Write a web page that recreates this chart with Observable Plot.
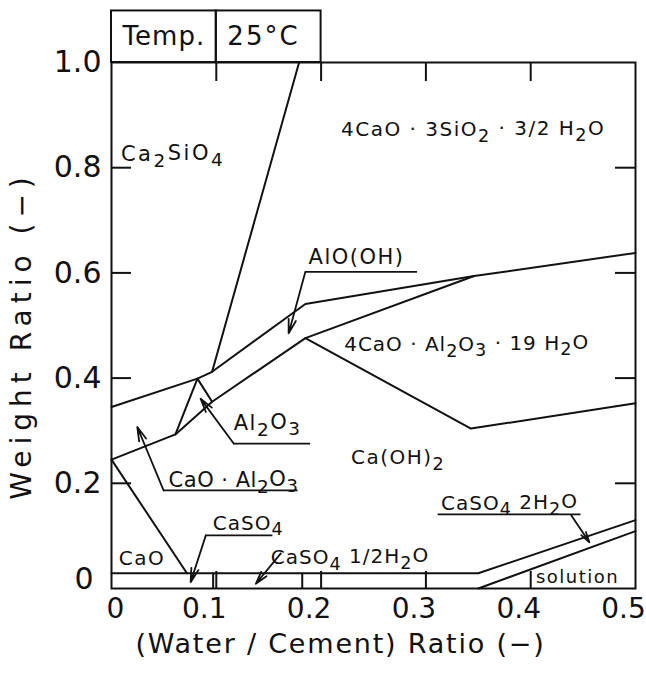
<!DOCTYPE html>
<html><head><meta charset="utf-8">
<script src="https://cdn.jsdelivr.net/npm/d3@7"></script>
<script src="https://cdn.jsdelivr.net/npm/@observablehq/plot@0.6"></script>
<style>
body{margin:0;background:#fff;}
#chart svg{display:block;}
</style></head><body><div id="chart"></div>
<script>
// ---- axes ----
const xDomain = [0, 0.5];
const yDomain = [0, 1.0];
const xLabelTicks = [0.1, 0.2, 0.3, 0.4, 0.5];
const yLabelTicks = [0.2, 0.4, 0.6, 0.8, 1.0];
const xInnerTicks = [0.1, 0.2, 0.3, 0.4];
const yInnerTicks = [0.2, 0.4, 0.6, 0.8];
const xTitle = "(Water / Cement) Ratio (−)";
const yTitle = "Weight Ratio (−)";

// ---- phase boundaries (weight ratio vs water/cement ratio) ----
const upperX = [0, 0.082, 0.096, 0.185, 0.346, 0.5];
const upperY = [0.345, 0.399, 0.412, 0.541, 0.594, 0.638];
const ca2sio4X = [0.096, 0.179];
const ca2sio4Y = [0.412, 1.0];
const lowerX = [0, 0.061, 0.096, 0.185, 0.346];
const lowerY = [0.245, 0.293, 0.355, 0.476, 0.594];
const al2o3PeakX = [0.061, 0.082, 0.096];
const al2o3PeakY = [0.293, 0.399, 0.355];
const caohX = [0.185, 0.343, 0.5];
const caohY = [0.476, 0.304, 0.352];
const caoX = [0, 0.072];
const caoY = [0.245, 0.029];
const bandTopX = [0, 0.35, 0.5];
const bandTopY = [0.029, 0.029, 0.13];
const solutionX = [0.35, 0.5];
const solutionY = [0, 0.109];
const bandDividers = [0.097, 0.182];
const bandHeight = 0.029;

// ---- temperature box ----
const tempCellX1 = [0, 0.1];
const tempCellX2 = [0.1, 0.2];
const tempText = ["Temp.", "25°C"];
const tempTextX = [0.05, 0.145];
const tempBoxY = [1.0, 1.098];

// ---- region labels ----
const regionText = ["Ca₂SiO₄", "4CaO · 3SiO₂ · 3/2 H₂O", "4CaO · Al₂O₃ · 19 H₂O", "Ca(OH)₂", "CaO", "solution"];
const regionX = [0.009, 0.219, 0.222, 0.2285, 0.007, 0.405];
const regionY = [0.825, 0.872, 0.463, 0.248, 0.057, 0.021];
const regionSize = [21, 20, 20, 20, 20, 18];
const regionSpacing = [2.5, 1.5, 1.0, 1.5, 1.5, 1.5];

// ---- leader labels (text, underline, arrow) ----
const leaderText = ["AlO(OH)", "Al₂O₃", "CaO · Al₂O₃", "CaSO₄", "CaSO₄ 1/2H₂O", "CaSO₄ 2H₂O"];
const leaderTextX = [0.188, 0.1166, 0.0545, 0.0966, 0.152, 0.3145];
const leaderTextY = [0.630, 0.314, 0.206, 0.124, 0.059, 0.162];
const leaderSize = [21, 21, 21, 20, 20, 20];
const leaderSpacing = [1.5, 1.5, 0.5, 1.0, 1.0, 1.0];
const underlineX1 = [0.185, 0.1166, 0.0497, 0.09, null, 0.3117];
const underlineX2 = [0.292, 0.19, 0.178, 0.154, null, 0.448];
const underlineY = [0.602, 0.2756, 0.1867, 0.101, null, 0.141];
const arrowFromX = [0.185, 0.1166, 0.0497, 0.09, 0.1616, 0.4388];
const arrowFromY = [0.602, 0.2756, 0.1867, 0.101, 0.0667, 0.139];
const arrowToX = [0.169, 0.085, 0.0246, 0.0755, 0.1377, 0.456];
const arrowToY = [0.485, 0.361, 0.307, 0.012, 0.009, 0.088];

// ---- build tables ----
function seg(id, xs, ys) { return xs.map((x, i) => ({id, x, y: ys[i]})); }
const boundaries = [
  ...seg("upper", upperX, upperY),
  ...seg("ca2sio4", ca2sio4X, ca2sio4Y),
  ...seg("lower", lowerX, lowerY),
  ...seg("peak", al2o3PeakX, al2o3PeakY),
  ...seg("caoh", caohX, caohY),
  ...seg("cao", caoX, caoY),
  ...seg("band", bandTopX, bandTopY),
  ...seg("solution", solutionX, solutionY)
];
const regions = regionText.map((t, i) => ({t, x: regionX[i], y: regionY[i], s: regionSize[i]}));
const leaders = leaderText.map((t, i) => ({
  t, tx: leaderTextX[i], ty: leaderTextY[i], s: leaderSize[i],
  ux1: underlineX1[i], ux2: underlineX2[i], uy: underlineY[i],
  ax1: arrowFromX[i], ay1: arrowFromY[i], ax2: arrowToX[i], ay2: arrowToY[i]
}));
const underlines = leaders.filter(d => d.ux1 != null);
const tempCells = tempCellX1.map((x1, i) => ({x1, x2: tempCellX2[i], t: tempText[i], tx: tempTextX[i]}));

const spacingByText = new Map([
  ...regionText.map((t, i) => [t, regionSpacing[i]]),
  ...leaderText.map((t, i) => [t, leaderSpacing[i]]),
  [yTitle, 6], [xTitle, 1.8], ["Temp.", 1], ["25°C", 2]
]);

const W = 646, H = 673, mL = 111, mR = 11, mT = 62, mB = 85;
const pw = W - mL - mR, ph = H - mT - mB;
const font = "DejaVu Sans";

const chart = Plot.plot({
  width: W, height: H,
  marginLeft: mL, marginRight: mR, marginTop: mT, marginBottom: mB,
  style: {fontFamily: font, color: "#111", background: "#fff"},
  x: {domain: xDomain},
  y: {domain: yDomain},
  marks: [
    Plot.frame({stroke: "#111", strokeWidth: 2}),
    // inward ticks
    Plot.tickY(yInnerTicks, {y: d => d, insetRight: pw - 20, stroke: "#111", strokeWidth: 2}),
    Plot.tickY(yInnerTicks, {y: d => d, insetLeft: pw - 20, stroke: "#111", strokeWidth: 2}),
    Plot.tickX(xInnerTicks, {x: d => d, insetBottom: ph - 19, stroke: "#111", strokeWidth: 2}),
    Plot.tickX(xInnerTicks, {x: d => d, insetTop: ph - 17, stroke: "#111", strokeWidth: 2}),
    // tick labels
    Plot.axisY(yLabelTicks, {anchor: "left", tickSize: 0, tickPadding: 10, tickFormat: d => d.toFixed(1), fontSize: 30, label: null}),
    Plot.axisY([0], {anchor: "left", tickSize: 0, tickPadding: 18, dy: -9, tickFormat: () => "0", fontSize: 30, label: null}),
    Plot.axisX(xLabelTicks, {anchor: "bottom", tickSize: 0, tickPadding: 10, dx: -12, tickFormat: d => d.toFixed(1), fontSize: 28, label: null}),
    Plot.axisX([0], {anchor: "bottom", tickSize: 0, tickPadding: 10, dx: 4, tickFormat: () => "0", fontSize: 28, label: null}),
    // titles
    Plot.text([yTitle], {frameAnchor: "left", textAnchor: "middle", text: d => d, rotate: -90, dx: -89, dy: 10, fontSize: 28}),
    Plot.text([xTitle], {frameAnchor: "bottom", text: d => d, dy: 64, dx: -33, fontSize: 27}),
    // temperature box
    Plot.rect(tempCells, {x1: "x1", x2: "x2", y1: tempBoxY[0], y2: tempBoxY[1], fill: "none", stroke: "#111", strokeWidth: 2, clip: false}),
    Plot.text(tempCells, {x: "tx", y: (tempBoxY[0] + tempBoxY[1]) / 2, text: "t", fontSize: 26}),
    // boundaries
    Plot.line(boundaries, {x: "x", y: "y", z: "id", stroke: "#111", strokeWidth: 2}),
    Plot.ruleX(bandDividers, {x: d => d, y1: 0, y2: bandHeight, stroke: "#111", strokeWidth: 2}),
    // leaders
    Plot.ruleY(underlines, {y: "uy", x1: "ux1", x2: "ux2", stroke: "#111", strokeWidth: 1.8}),
    Plot.arrow(leaders, {x1: "ax1", y1: "ay1", x2: "ax2", y2: "ay2", stroke: "#111", strokeWidth: 1.8, headLength: 12, headAngle: 30}),
    // labels
    Plot.text(leaders, {x: "tx", y: "ty", text: "t", textAnchor: "start", fontSize: "s"}),
    Plot.text(regions, {x: "x", y: "y", text: "t", textAnchor: "start", fontSize: "s"})
  ]
});
document.getElementById("chart").append(chart);

// letter spacing and full-size chemical subscripts (rendered as tspans)
const subs = "₀₁₂₃₄₅₆₇₈₉";
d3.select(chart).selectAll("text").each(function() {
  const el = this;
  if (el.querySelector("tspan")) return;
  const s = el.textContent;
  if (spacingByText.has(s)) el.style.letterSpacing = spacingByText.get(s) + "px";
  if (![...s].some(c => subs.includes(c))) return;
  el.textContent = "";
  let buf = "", sub = false;
  const flush = () => {
    if (!buf) return;
    const ts = document.createElementNS("http://www.w3.org/2000/svg", "tspan");
    ts.textContent = buf;
    if (sub) { ts.setAttribute("dy", "0.32em"); ts.setAttribute("font-size", "88%"); }
    else if (el.childNodes.length) { ts.setAttribute("dy", "-0.32em"); }
    el.appendChild(ts);
    buf = "";
  };
  for (const c of s) {
    const isSub = subs.includes(c);
    if (isSub !== sub) { flush(); sub = isSub; }
    buf += isSub ? String(subs.indexOf(c)) : c;
  }
  flush();
});
</script>
</body></html>
